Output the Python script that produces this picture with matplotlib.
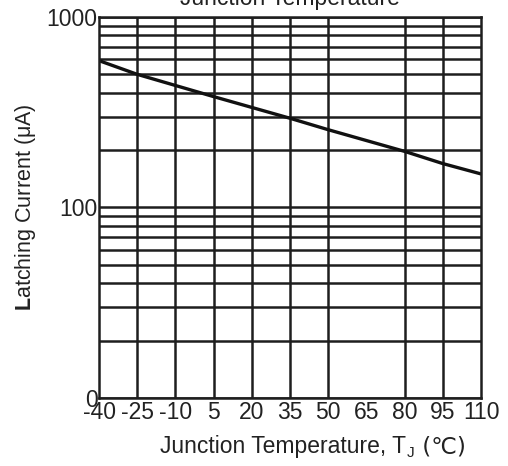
import matplotlib
matplotlib.use("Agg")
import matplotlib.pyplot as plt
from matplotlib.ticker import LogLocator, NullFormatter, FixedLocator, FixedFormatter

plt.rcParams['font.family'] = ['Liberation Sans', 'DejaVu Sans']
plt.rcParams['mathtext.fontset'] = 'custom'
plt.rcParams['mathtext.bf'] = 'Liberation Sans:bold'
plt.rcParams['mathtext.rm'] = 'Liberation Sans'

# Data
temps = [-40, -25, 5, 35, 50, 80, 95, 110]
latch_current = [590, 500, 382, 294, 256, 197, 170, 150]

x_ticks = [-40, -25, -10, 5, 20, 35, 50, 65, 80, 95, 110]
x_tick_labels = ["-40", "-25", "-10", "5", "20", "35", "50", "65", "80", "95", "110"]
x_grid = [-25, -10, 5, 20, 35, 50, 80, 95]
y_ticks = [10, 100, 1000]
y_tick_labels = ["0", "100", "1000"]

fig = plt.figure(figsize=(5.08, 4.66), dpi=100)
ax = fig.add_axes([0.195, 0.146, 0.752, 0.8175])

ax.set_yscale('log')
ax.set_xlim(-40, 110)
ax.set_ylim(10, 1000)

gc = '#1e1e1e'
tc = '#222222'
ax.yaxis.set_major_locator(FixedLocator(y_ticks))
ax.yaxis.set_major_formatter(FixedFormatter(y_tick_labels))
ax.yaxis.set_minor_locator(LogLocator(base=10, subs=range(2, 10)))
ax.yaxis.set_minor_formatter(NullFormatter())
ax.grid(True, which='both', axis='y', color=gc, linewidth=1.8)
for g in x_grid:
    ax.axvline(g, color=gc, linewidth=1.8)

ax.set_xticks(x_ticks)
ax.set_xticklabels(x_tick_labels)
ax.tick_params(axis='both', which='both', length=0, labelsize=16.5, colors=tc)
ax.tick_params(axis='x', pad=2)
ax.tick_params(axis='y', pad=1)

for s in ax.spines.values():
    s.set_color(gc)
    s.set_linewidth(1.8)

ax.plot(temps, latch_current, color='#111111', linewidth=2.4)

ax.set_ylabel("$\\mathbf{L}$atching Current (μA)", fontsize=15.5, color=tc, labelpad=6)

# x label built from pieces so the subscript and the ℃ sign both render
t1 = fig.text(160 / 508, 1 - 453 / 466, "Junction Temperature, T", ha='left', va='baseline',
              fontsize=16.5, color=tc)
t2 = ax.annotate("J", xy=(1, 0), xycoords=t1, xytext=(0.3, -1.5), textcoords='offset points',
                 ha='left', va='bottom', fontsize=11, color=tc)
ax.annotate(" (℃)", xy=(1, 0), xycoords=t1, xytext=(6.5, 0), textcoords='offset points',
            ha='left', va='bottom', fontsize=16.5, color=tc,
            family=['DejaVu Sans'])

fig.text(0.57, 1 - 5 / 466, "Junction Temperature", ha='center', va='baseline',
         fontsize=16.5, color=tc)

fig.savefig("out.png", dpi=100)
